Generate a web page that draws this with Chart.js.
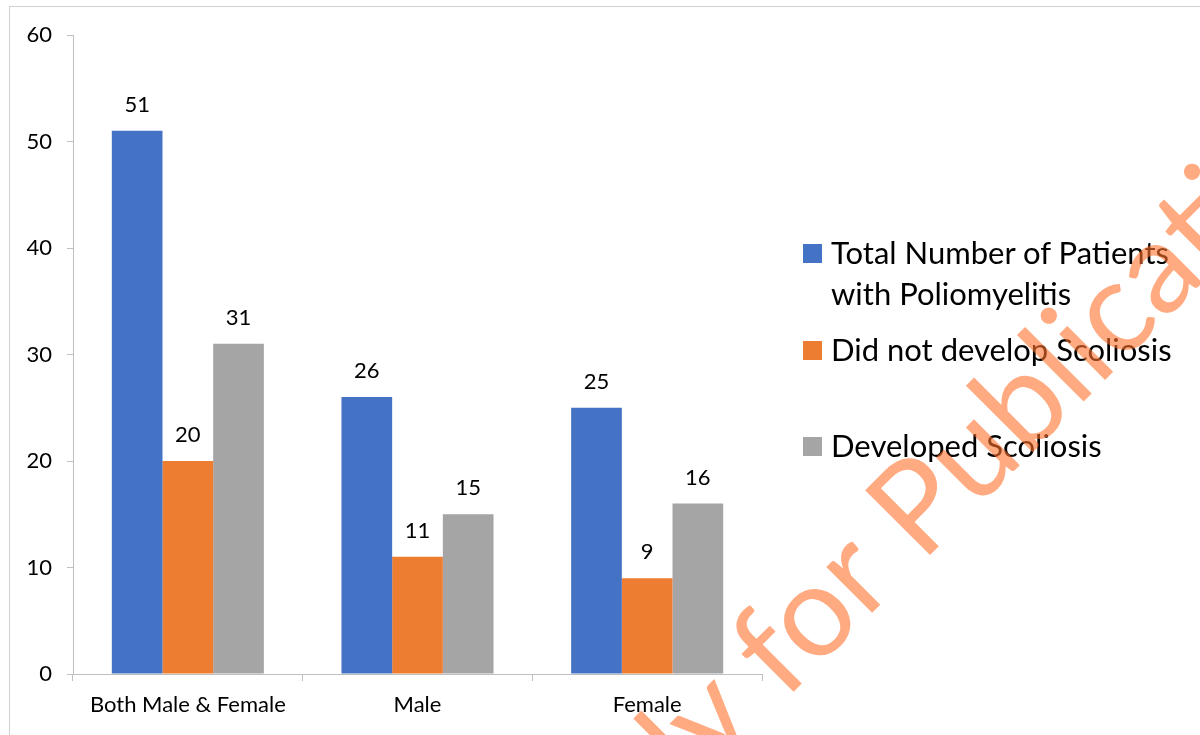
<!DOCTYPE html>
<html>
<head>
<meta charset="utf-8">
<script src="https://cdn.jsdelivr.net/npm/chart.js@4.4.1/dist/chart.umd.min.js"></script>
<style>
  body { margin: 0; background: #fff; }
  #wrap { position: relative; width: 1200px; height: 735px; overflow: hidden; font-family: Lato, "Open Sans", sans-serif; }
  #frame { position: absolute; left: 9px; top: 6px; width: 1300px; height: 800px; border: 1px solid #d0d0d0; }
  canvas { position: absolute; left: 0; top: 0; }
  #legend { position: absolute; left: 803px; top: 232px; font-size: 31px; color: #000; }
  .item { position: absolute; padding-left: 28px; white-space: nowrap; line-height: 41px; }
  .item .sw { position: absolute; left: 0; top: 12px; width: 19px; height: 19px; }
</style>
</head>
<body>
<div id="wrap">
  <div id="frame"></div>
  <canvas id="chart" width="1200" height="735"></canvas>
  <div id="legend"></div>
  <canvas id="mark" width="1200" height="735"></canvas>
</div>
<script>
// chart values
const categories = ['Both Male & Female', 'Male', 'Female'];
const totalPatients = [51, 26, 25];
const noScoliosis = [20, 11, 9];
const withScoliosis = [31, 15, 16];
const seriesNames = [['Total Number of Patients', 'with Poliomyelitis'], ['Did not develop Scoliosis'], ['Developed Scoliosis']];
const seriesColors = ['#4472C4', '#ED7D31', '#A5A5A5'];
const yTicks = [0, 10, 20, 30, 40, 50, 60];

// value labels above bars
const barLabels = {
    id: 'barLabels',
    afterDatasetsDraw(chart) {
        const ctx = chart.ctx;
        ctx.save();
        ctx.font = '22px Lato, sans-serif';
        ctx.fillStyle = '#000';
        ctx.textAlign = 'center';
        ctx.textBaseline = 'middle';
        chart.data.datasets.forEach((ds, i) => {
            chart.getDatasetMeta(i).data.forEach((bar, j) => {
                ctx.fillText(ds.data[j], bar.x, bar.y - 26);
            });
        });
        ctx.restore();
    }
};

const chart = new Chart(document.getElementById('chart'), {
    type: 'bar',
    data: {
        labels: categories,
        datasets: [totalPatients, noScoliosis, withScoliosis].map((d, i) => ({
            label: seriesNames[i].join(' '),
            data: d,
            backgroundColor: seriesColors[i],
            categoryPercentage: 0.662,
            barPercentage: 1
        }))
    },
    options: {
        responsive: false,
        animation: false,
        layout: { padding: { left: 0, top: 35, right: 438, bottom: 0 } },
        plugins: { legend: { display: false }, tooltip: { enabled: false } },
        scales: {
            x: {
                grid: { drawOnChartArea: false, tickLength: 7, color: '#bfbfbf' },
                border: { color: '#bfbfbf' },
                ticks: { color: '#000', font: { size: 22, family: 'Lato' }, padding: 11 },
                afterFit(s) { s.height = 61; }
            },
            y: {
                min: 0, max: 60,
                afterBuildTicks(s) { s.ticks = yTicks.map(v => ({ value: v })); },
                grid: { drawOnChartArea: false, tickLength: 6, color: '#bfbfbf' },
                border: { color: '#bfbfbf' },
                ticks: { color: '#000', font: { size: 22, family: 'Lato' }, padding: 15 },
                afterFit(s) { s.width = 73; }
            }
        }
    },
    plugins: [barLabels]
});

// html legend built from datasets
const legend = document.getElementById('legend');
const tops = [0, 97, 193];
seriesNames.forEach((lines, i) => {
    const div = document.createElement('div');
    div.className = 'item';
    div.style.top = tops[i] + 'px';
    div.innerHTML = '<span class="sw" style="background:' + seriesColors[i] + '"></span>' + lines.join('<br>');
    legend.appendChild(div);
});

// watermark, placed so the "o" of "for" sits where it does in the original
const mctx = document.getElementById('mark').getContext('2d');
const wmSize = 128;
mctx.font = wmSize + 'px Lato, sans-serif';
mctx.fillStyle = 'rgba(255,113,43,0.6)';
const oCenter = mctx.measureText('Ready f').width + mctx.measureText('o').width / 2;
mctx.translate(818, 620);
mctx.rotate(-45 * Math.PI / 180);
mctx.fillText('Ready for Publication', -oCenter, wmSize * 0.26);
</script>
</body>
</html>
